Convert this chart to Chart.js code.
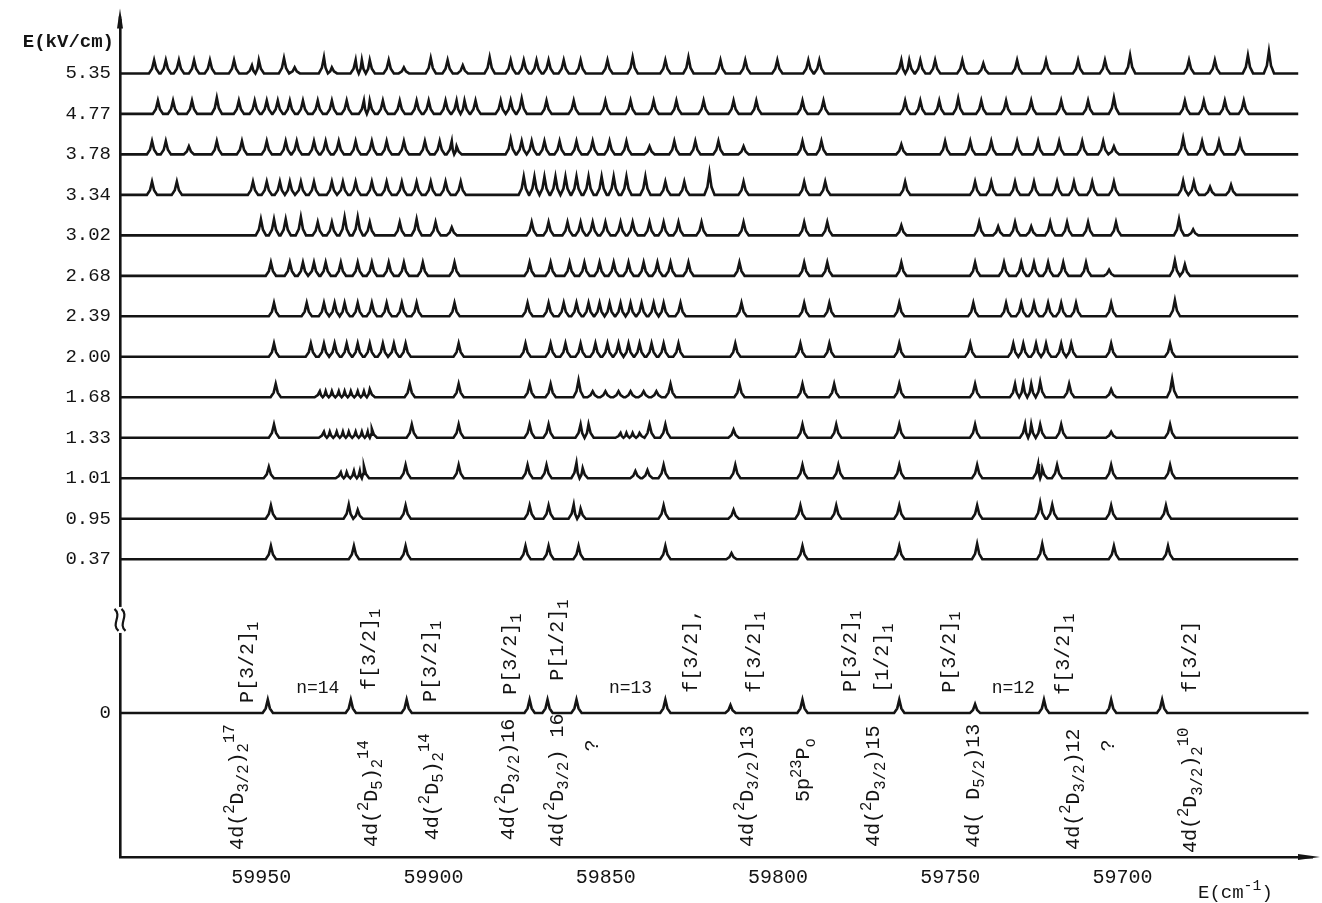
<!DOCTYPE html>
<html>
<head>
<meta charset="utf-8">
<script src="https://cdn.jsdelivr.net/npm/chart.js@4.4.1/dist/chart.umd.min.js"></script>
<style>
  html, body { margin: 0; padding: 0; background: #fff; }
  canvas { display: block; }
</style>
</head>
<body>
<canvas id="spectra" width="1322" height="903"></canvas>
<script>
// field values (kV/cm) of the traces, bottom to top, and the zero-field reference trace
const fieldLabels = ['0.37', '0.95', '1.01', '1.33', '1.68', '2.00', '2.39', '2.68', '3.02', '3.34', '3.78', '4.77', '5.35'];
const zeroLabel = '0';
const energyTicks = [59950, 59900, 59850, 59800, 59750, 59700];

// peak positions in cm-1; [E, h] where a peak is noticeably taller or smaller
const peaks037 = [59947.2, 59923.1, 59908.1, 59873.3, 59866.6, 59857.9, 59832.7, [59813.5, 0.15], 59792.9, 59764.8, [59742.2, 0.38], [59723.3, 0.38], 59702.5, 59686.8];
const peaks095 = [59947.2, [59924.6, 0.35], [59922.0, 0.22], 59908.1, 59872.1, 59866.6, [59859.3, 0.35], [59857.3, 0.25], 59833.2, [59812.9, 0.22], 59793.5, 59783.1, 59764.8, 59742.2, [59723.9, 0.4], [59720.4, 0.35], 59703.3, 59687.4];
const peaks101 = [[59947.8, 0.28], [59926.9, 0.15], [59925.2, 0.15], [59923.1, 0.18], [59921.4, 0.18], [59920.2, 0.3], 59908.1, 59892.7, 59872.7, 59867.2, [59858.5, 0.38], [59856.7, 0.25], [59841.4, 0.18], [59837.9, 0.2], 59833.2, 59812.4, 59792.9, 59782.5, 59764.8, 59742.2, [59724.5, 0.35], [59723.3, 0.25], 59719.0, 59703.3, 59686.2];
const peaks133 = [59946.3, [59931.8, 0.15], [59930.1, 0.15], [59928.1, 0.15], [59926.3, 0.15], [59924.6, 0.15], [59922.6, 0.15], [59920.8, 0.15], [59919.1, 0.15], [59917.9, 0.22], 59906.3, 59892.7, 59872.1, 59866.6, 59857.3, 59855.0, [59845.7, 0.12], [59844.0, 0.12], [59842.2, 0.12], [59840.2, 0.12], 59837.3, 59832.7, [59812.9, 0.2], 59792.9, 59783.1, 59764.8, 59742.8, 59728.3, 59726.5, 59723.9, 59717.8, [59703.3, 0.15], 59686.2];
const peaks168 = [59945.8, [59933.0, 0.15], [59931.3, 0.15], [59929.5, 0.15], [59927.5, 0.15], [59925.8, 0.15], [59924.0, 0.15], [59922.0, 0.15], [59920.2, 0.15], [59918.5, 0.2], 59906.9, 59892.7, 59872.1, 59866.0, [59857.9, 0.42], [59853.8, 0.15], [59850.1, 0.15], [59846.3, 0.15], [59842.8, 0.15], [59839.0, 0.15], [59835.3, 0.15], 59831.2, 59811.2, 59792.9, 59783.7, 59764.8, 59742.8, 59731.2, 59728.8, 59726.5, [59723.9, 0.38], 59715.5, [59703.3, 0.2], [59685.6, 0.45]];
const peaks200 = [59946.3, 59935.6, 59931.8, 59928.7, 59925.2, 59922.0, 59918.5, 59914.7, 59911.5, 59908.1, 59892.7, 59873.3, 59866.0, 59861.7, 59857.3, 59853.0, 59849.5, 59846.3, 59843.4, 59840.2, 59836.7, 59833.2, 59828.9, 59812.4, 59793.5, 59785.1, 59764.8, 59744.2, 59731.7, 59728.8, 59725.1, 59722.2, 59717.8, 59714.9, 59703.3, 59686.2];
const peaks239 = [59946.3, 59936.8, 59931.8, 59928.7, 59925.8, 59922.0, 59917.9, 59913.6, 59909.2, 59904.9, 59893.9, 59872.7, 59866.6, 59862.2, 59858.5, 59855.0, 59851.8, 59848.9, 59845.7, 59842.8, 59839.6, 59836.1, 59833.2, 59828.3, 59810.6, 59792.4, 59785.1, 59764.8, 59743.3, 59733.8, 59729.4, 59725.7, 59721.6, 59717.8, 59713.5, 59703.3, [59684.8, 0.4]];
const peaks268 = [59947.2, 59941.7, 59937.9, 59934.7, 59931.3, 59926.9, 59922.0, 59917.9, 59913.0, 59908.6, 59903.1, 59893.9, 59872.1, 59866.0, 59860.5, 59856.2, 59851.8, 59847.7, 59843.4, 59839.0, 59835.0, 59831.2, 59826.0, 59811.2, 59792.4, 59785.7, 59764.2, 59742.8, 59734.4, 59729.4, 59725.7, 59721.6, 59717.2, 59710.6, [59703.9, 0.15], [59684.8, 0.38], [59681.9, 0.28]];
const peaks302 = [[59950.1, 0.4], [59946.3, 0.4], [59942.9, 0.4], [59938.5, 0.45], 59933.6, 59929.5, [59925.8, 0.45], [59922.0, 0.45], 59918.5, 59909.8, [59904.9, 0.4], 59899.4, [59894.7, 0.2], 59871.5, 59866.6, 59861.1, 59857.3, 59853.8, 59850.1, 59845.7, 59842.2, 59837.3, 59833.2, 59828.9, 59822.2, 59810.0, 59792.4, 59785.7, [59764.2, 0.25], 59741.6, [59736.1, 0.22], 59731.2, [59726.5, 0.22], 59721.0, 59716.1, 59710.0, 59701.9, [59683.6, 0.4], [59679.5, 0.15]];
const peaks334 = [59981.7, 59974.5, 59952.4, 59948.4, 59944.6, 59941.7, 59938.5, 59934.7, 59929.5, 59926.3, 59922.6, 59917.9, 59913.6, 59909.2, 59904.9, 59900.8, 59896.5, 59892.1, [59873.8, 0.45], [59870.7, 0.45], [59867.8, 0.45], [59864.6, 0.45], [59861.7, 0.45], [59858.5, 0.45], [59855.0, 0.45], [59851.2, 0.45], [59847.7, 0.45], [59844.0, 0.45], [59838.5, 0.45], 59832.7, 59827.2, [59819.9, 0.55], 59810.0, 59792.4, 59786.3, 59763.1, 59742.8, 59738.1, 59731.2, 59725.7, 59719.0, 59714.1, 59708.8, 59702.5, [59682.4, 0.35], 59679.3, [59674.6, 0.2], [59668.5, 0.25]];
const peaks378 = [59981.7, 59977.7, [59971.0, 0.2], 59962.9, 59955.6, 59948.4, 59942.9, 59939.7, 59934.7, 59931.3, 59927.5, 59922.6, 59917.9, 59913.6, 59908.6, 59902.5, 59898.2, 59894.7, [59893.3, 0.2], [59877.6, 0.38], 59874.4, 59871.5, 59867.8, 59863.4, 59858.5, 59853.8, 59848.9, 59844.0, [59837.3, 0.2], 59830.1, 59824.0, 59817.3, [59810.0, 0.2], 59792.9, 59787.4, [59764.2, 0.25], 59751.5, 59744.2, 59738.1, 59730.6, 59724.5, 59718.4, 59711.7, 59705.6, [59702.5, 0.2], [59682.4, 0.4], 59676.9, 59672.0, 59665.9];
const peaks477 = [59980.0, 59975.6, 59970.1, [59962.9, 0.4], 59956.5, 59951.9, 59948.4, 59945.2, 59941.7, 59937.9, 59933.6, 59929.5, 59925.2, 59920.2, 59918.5, 59914.7, 59909.8, 59904.9, 59901.4, 59896.5, 59893.3, 59891.0, 59887.8, 59880.5, 59877.6, [59874.4, 0.38], 59867.2, 59859.3, 59850.1, 59842.8, 59836.1, 59829.5, 59821.6, 59812.9, 59806.3, 59792.9, 59786.8, 59763.1, 59758.7, 59753.2, [59747.7, 0.38], 59741.0, 59733.8, 59726.5, 59717.8, 59710.0, [59702.5, 0.4], 59681.9, 59676.4, 59670.3, 59664.8];
const peaks535 = [59981.1, 59977.7, 59973.9, 59969.5, 59964.9, 59957.9, [59952.7, 0.2], 59950.7, [59943.4, 0.38], [59940.3, 0.15], [59931.8, 0.4], [59929.5, 0.15], 59922.6, 59920.8, 59918.5, 59913.0, [59908.6, 0.15], [59900.8, 0.38], 59895.9, [59891.5, 0.2], [59883.7, 0.4], 59877.6, 59873.8, 59870.1, 59866.6, 59862.2, 59857.3, 59849.5, [59842.2, 0.4], 59832.7, [59826.0, 0.4], 59816.7, 59809.5, 59800.2, 59791.2, 59788.0, 59764.2, 59761.9, 59758.7, 59754.4, 59746.5, [59740.4, 0.25], 59730.6, 59722.2, 59712.9, 59705.1, [59697.8, 0.45], 59680.7, 59673.2, [59663.6, 0.45], [59657.5, 0.55]];
const peaksZero = [59948.1, 59924.0, 59907.8, 59872.1, 59866.9, 59858.5, 59832.7, [59813.8, 0.2], 59792.9, 59764.8, [59742.8, 0.22], 59722.8, 59703.3, 59688.5];

const fieldPeaks = [peaks037, peaks095, peaks101, peaks133, peaks168, peaks200, peaks239, peaks268, peaks302, peaks334, peaks378, peaks477, peaks535];

// assignments of the zero-field lines: text, energy (cm-1), start height (trace units)
const upperText = ['P[3/2]_1', 'f[3/2]_1', 'P[3/2]_1', 'P[3/2]_1', 'P[1/2]_1', 'f[3/2],', 'f[3/2]_1', 'P[3/2]_1', '[1/2]_1', 'P[3/2]_1', 'f[3/2]_1', 'f[3/2]'];
const upperE = [59953.9, 59918.5, 59900.8, 59877.6, 59864.0, 59825.1, 59806.9, 59779.0, 59769.7, 59750.3, 59717.2, 59680.1];
const upperY = [0.25, 0.57, 0.27, 0.45, 0.8, 0.5, 0.5, 0.52, 0.5, 0.5, 0.45, 0.5];
const lowerText = ['4d(^2D_{3/2})_2^{17}', '4d(^2D_5)_2^{14}', '4d(^2D_5)_2^{14}', '4d(^2D_{3/2})16', "4d(^2D_{3/2}) 16", '4d(^2D_{3/2})13', '5p^{2}^{3}P_o', '4d(^2D_{3/2})15', '4d( D_{5/2})13', '4d(^2D_{3/2})12', '4d(^2D_{3/2})_2^{10}'];
const lowerE = [59956.8, 59917.9, 59900.2, 59878.2, 59864.0, 59808.9, 59792.4, 59772.1, 59743.3, 59714.1, 59680.1];
const lowerY = [-3.38, -3.31, -3.14, -3.14, -3.31, -3.31, -2.2, -3.31, -3.33, -3.38, -3.46];
const unknownE = [59853.8, 59703.9];
const seriesText = ['n=14', 'n=13', 'n=12'];
const seriesE = [59933.6, 59842.8, 59731.7];

const FONT = "'Liberation Mono', 'DejaVu Sans Mono', monospace";
const INK = '#141414';
const ROW0 = 3.8;          // height of the lowest field trace above the zero-field trace
const DEFAULT_H = 0.33;
const HALF_W = 1.5;

function traceData(peaks, base, end) {
  const list = peaks.map(p => Array.isArray(p) ? { e: p[0], h: p[1] } : { e: p, h: DEFAULT_H })
    .sort((a, b) => b.e - a.e);
  const pts = [{ x: 59991, y: base }];
  list.forEach((pk, i) => {
    let wl = HALF_W, wr = HALF_W;
    if (i > 0) wl = Math.min(wl, (list[i - 1].e - pk.e) / 2);
    if (i < list.length - 1) wr = Math.min(wr, (pk.e - list[i + 1].e) / 2);
    pts.push({ x: pk.e + wl, y: base });
    pts.push({ x: pk.e + wl * 0.4, y: base + pk.h * 0.35 });
    pts.push({ x: pk.e, y: base + pk.h });
    pts.push({ x: pk.e - wr * 0.4, y: base + pk.h * 0.35 });
    pts.push({ x: pk.e - wr, y: base });
  });
  pts.push({ x: end, y: base });
  return pts;
}

const rowBase = fieldLabels.map((_, i) => ROW0 + i);
const datasets = fieldPeaks.map((pk, i) => ({
  data: traceData(pk, rowBase[i], 59649),
  borderColor: INK, borderWidth: 2.6, pointRadius: 0, tension: 0, fill: false
}));
datasets.push({
  data: traceData(peaksZero, 0, 59646),
  borderColor: INK, borderWidth: 2.6, pointRadius: 0, tension: 0, fill: false
});

// text with _sub and ^sup parts
function richParts(str) {
  const parts = [];
  let i = 0;
  while (i < str.length) {
    const c = str[i];
    if (c === '_' || c === '^') {
      let t;
      if (str[i + 1] === '{') { const j = str.indexOf('}', i + 2); t = str.slice(i + 2, j); i = j + 1; }
      else { t = str[i + 1]; i += 2; }
      parts.push({ t, m: c });
    } else {
      let j = i;
      while (j < str.length && str[j] !== '_' && str[j] !== '^') j++;
      parts.push({ t: str.slice(i, j), m: '' });
      i = j;
    }
  }
  return parts;
}
function drawRich(ctx, str, x, y, size) {
  let cx = x;
  richParts(str).forEach(p => {
    const s = p.m ? size * 0.78 : size;
    ctx.font = s + 'px ' + FONT;
    const dy = p.m === '_' ? size * 0.32 : p.m === '^' ? -size * 0.38 : 0;
    ctx.fillText(p.t, cx, y + dy);
    cx += ctx.measureText(p.t).width;
  });
}

const decorations = {
  id: 'decorations',
  afterDraw(chart) {
    const { ctx, chartArea: a, scales: { x, y } } = chart;
    ctx.save();
    ctx.fillStyle = INK;
    ctx.strokeStyle = INK;
    ctx.textBaseline = 'middle';
    ctx.textAlign = 'left';

    const rotated = (txt, e, v) => {
      ctx.save();
      ctx.translate(x.getPixelForValue(e), y.getPixelForValue(v));
      ctx.rotate(-Math.PI / 2);
      drawRich(ctx, txt, 0, 0, 20);
      ctx.restore();
    };
    upperText.forEach((t, i) => rotated(t, upperE[i], upperY[i]));
    lowerText.forEach((t, i) => rotated(t, lowerE[i], lowerY[i]));
    unknownE.forEach(e => rotated('?', e, -0.95));

    ctx.font = '18px ' + FONT;
    ctx.textAlign = 'center';
    seriesText.forEach((t, i) => ctx.fillText(t, x.getPixelForValue(seriesE[i]), y.getPixelForValue(0.62)));

    // axis titles
    ctx.textAlign = 'right';
    ctx.font = 'bold 19px ' + FONT;
    ctx.fillText('E(kV/cm)', a.left - 6, y.getPixelForValue(16.57));
    ctx.textAlign = 'left';
    drawRich(ctx, 'E(cm^{-1})', a.right - 114, a.bottom + 36, 19);

    // arrow heads
    ctx.beginPath();
    ctx.moveTo(a.left, a.top - 12);
    ctx.lineTo(a.left - 3, a.top + 8);
    ctx.lineTo(a.left + 3, a.top + 8);
    ctx.closePath();
    ctx.fill();
    ctx.fillRect(a.left - 1.3, a.top - 4, 2.6, 8);
    ctx.beginPath();
    ctx.moveTo(a.right + 8, a.bottom);
    ctx.lineTo(a.right - 14, a.bottom - 3);
    ctx.lineTo(a.right - 14, a.bottom + 3);
    ctx.closePath();
    ctx.fill();

    // axis break mark
    const by = y.getPixelForValue(2.3);
    ctx.fillStyle = '#fff';
    ctx.fillRect(a.left - 3, by - 13, 6, 26);
    ctx.lineWidth = 2.2;
    [-3.5, 3.5].forEach(d => {
      ctx.beginPath();
      ctx.moveTo(a.left + d - 2, by - 11);
      ctx.bezierCurveTo(a.left + d + 6, by - 4, a.left + d - 6, by + 4, a.left + d + 2, by + 11);
      ctx.stroke();
    });
    ctx.restore();
  }
};

new Chart(document.getElementById('spectra'), {
  type: 'line',
  data: { datasets },
  plugins: [decorations],
  options: {
    responsive: false,
    animation: false,
    devicePixelRatio: 1,
    layout: { padding: { top: 0, right: 10, left: 0, bottom: 0 } },
    plugins: { legend: { display: false }, tooltip: { enabled: false } },
    scales: {
      x: {
        type: 'linear',
        reverse: true,
        min: 59645,
        max: 59991,
        afterBuildTicks: s => { s.ticks = energyTicks.map(v => ({ value: v })); },
        afterFit: s => { s.height = 46; },
        ticks: {
          color: INK,
          padding: 9,
          maxRotation: 0,
          font: { family: FONT, size: 20 },
          callback: v => String(v)
        },
        grid: { display: false, drawTicks: false },
        border: { display: true, color: INK, width: 2.6 }
      },
      y: {
        type: 'linear',
        min: -3.556,
        max: 17.11,
        afterBuildTicks: s => {
          s.ticks = [{ value: 0 }].concat(rowBase.map(v => ({ value: v })));
        },
        afterFit: s => { s.width = 120; },
        ticks: {
          color: INK,
          padding: 9,
          font: { family: FONT, size: 19 },
          callback: v => {
            if (v === 0) return zeroLabel;
            const i = rowBase.findIndex(r => Math.abs(r - v) < 1e-6);
            return i >= 0 ? fieldLabels[i] : '';
          }
        },
        grid: { display: false, drawTicks: false },
        border: { display: true, color: INK, width: 2.6 }
      }
    }
  }
});
</script>
</body>
</html>
